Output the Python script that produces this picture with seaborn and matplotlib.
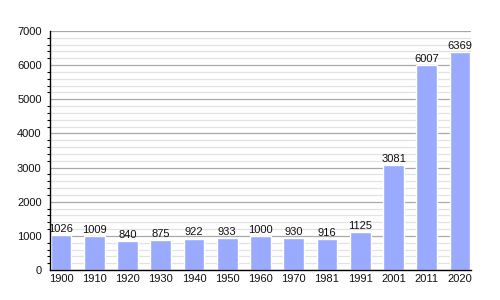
import matplotlib
matplotlib.use("Agg")
import matplotlib.pyplot as plt
import seaborn as sns
import pandas as pd
from matplotlib.ticker import MultipleLocator

years = ["1900", "1910", "1920", "1930", "1940", "1950", "1960", "1970", "1981", "1991", "2001", "2011", "2020"]
population = [1026, 1009, 840, 875, 922, 933, 1000, 930, 916, 1125, 3081, 6007, 6369]

df = pd.DataFrame({"year": years, "pop": population})

sns.set_style("white")
plt.rcParams["font.family"] = ["Liberation Sans", "DejaVu Sans"]

fig = plt.figure(figsize=(5, 3), dpi=100)
ax = fig.add_axes([0.1, 0.1, 0.842, 0.797])

sns.barplot(data=df, x="year", y="pop", color="#99aaff", saturation=1, width=0.62, ax=ax, zorder=3)

ax.set_ylim(0, 7000)
ax.set_xlim(-0.33, len(years) - 1 + 0.33)
ax.yaxis.set_major_locator(MultipleLocator(1000))
ax.yaxis.set_minor_locator(MultipleLocator(200))
ax.grid(which="major", axis="y", color="#a8a8a8", linewidth=0.9, zorder=0)
ax.grid(which="minor", axis="y", color="#e2e2e2", linewidth=0.9, zorder=0)
ax.set_axisbelow(True)

for s in ["top", "right"]:
    ax.spines[s].set_visible(False)
for s in ["left", "bottom"]:
    ax.spines[s].set_color("black")
    ax.spines[s].set_linewidth(1)
    ax.spines[s].set_zorder(5)

ax.tick_params(axis="y", which="major", direction="out", length=4, width=0.8, color="black", labelsize=8, pad=2, labelcolor="#111111")
ax.tick_params(axis="y", which="minor", direction="out", length=2, width=0.8, color="black", left=True)
ax.tick_params(axis="x", length=0, labelsize=8, pad=3, labelcolor="#111111")
ax.set_xlabel("")
ax.set_ylabel("")

for i, v in enumerate(population):
    ax.text(i, v + 30, str(v), ha="center", va="bottom", fontsize=8, color="#111111")

fig.savefig("out.png", dpi=100)
